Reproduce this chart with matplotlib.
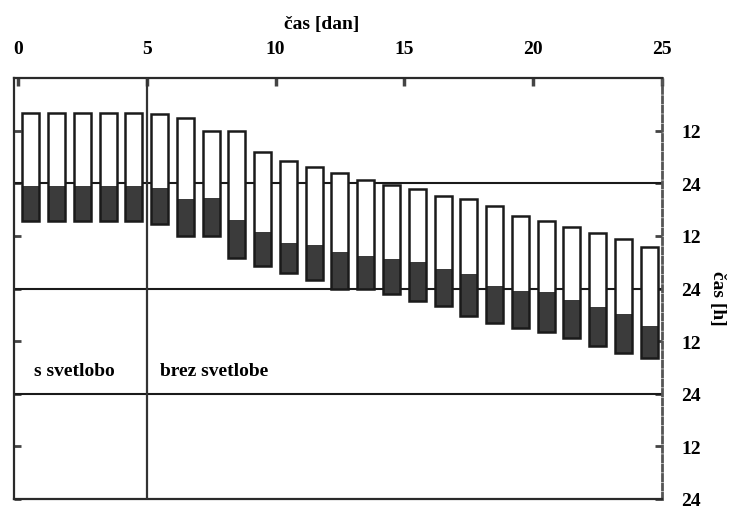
import matplotlib
matplotlib.use("Agg")
import matplotlib.pyplot as plt
import numpy as np

# ---- data ----
days = list(range(25))                       # day index of each bar
onset = [8, 8, 8, 8, 8, 8.2, 9.2, 12, 12, 16.8, 19, 20.4, 21.7, 23.2, 24.4,
         25.3, 26.8, 27.7, 29.1, 31.5, 32.5, 34, 35.3, 36.7, 38.5]
dark_start = [24.6, 24.6, 24.6, 24.6, 24.6, 25, 27.6, 27.4, 32.3, 35.1, 37.6,
              38, 39.6, 40.5, 41.2, 42, 43.6, 44.7, 47.4, 48.5, 48.7, 50.6,
              52.2, 53.8, 56.5]
offset = [32.6, 32.6, 32.6, 32.6, 32.6, 33.3, 36, 36, 41, 42.8, 44.5, 46, 48,
          48, 49.3, 50.8, 52.1, 54.2, 55.9, 56.9, 58, 59.4, 61, 62.6, 63.9]
x_ticks = [0, 5, 10, 15, 20, 25]
y_ticks = [12, 24, 36, 48, 60, 72, 84, 96]
y_tick_labels = ["12", "24", "12", "24", "12", "24", "12", "24"]
day_lines = [24, 48, 72]

FONT = "Liberation Serif"

fig = plt.figure(figsize=(7.29, 5.10), dpi=100)
ax = fig.add_axes([14/729, 1 - 500/510, (662 - 14)/729, (500 - 79)/510])
ax.set_xlim(-0.155, 25)
ax.set_ylim(96, 0)

xpos = np.array(days) + 0.5
on = np.array(onset); ds = np.array(dark_start); off = np.array(offset)
W = 0.66
ax.bar(xpos, ds - on, bottom=on, width=W, color="white", edgecolor="none", zorder=3)
ax.bar(xpos, off - ds, bottom=ds, width=W, color="#3b3b3b", edgecolor="none", zorder=3)
ax.bar(xpos, off - on, bottom=on, width=W, fill=False, edgecolor="#1a1a1a",
       linewidth=1.8, zorder=4)

for h in day_lines:
    ax.axhline(h, color="#1a1a1a", lw=1.5, zorder=2)
ax.axvline(5, color="#333333", lw=1.6, zorder=5)

for s in ["left", "top", "bottom"]:
    ax.spines[s].set_linewidth(1.6)
    ax.spines[s].set_color("#2a2a2a")
ax.spines["right"].set_linestyle((0, (2.2, 1.2)))
ax.spines["right"].set_linewidth(2)
ax.spines["right"].set_color("#555555")

ax.xaxis.set_ticks_position("top")
ax.set_xticks(x_ticks)
ax.set_xticklabels([str(v) for v in x_ticks], fontfamily=FONT, fontweight="bold", fontsize=14)
ax.tick_params(axis="x", direction="in", length=6, width=2.5, pad=15, color="#444444")
fig.text(322/729, 1 - 24/510, "čas [dan]", fontfamily=FONT, fontweight="bold",
         fontsize=14, ha="center", va="center")

ax.yaxis.set_ticks_position("both")
ax.set_yticks(y_ticks)
ax.set_yticklabels(y_tick_labels, fontfamily=FONT, fontweight="bold", fontsize=14)
ax.tick_params(axis="y", which="both", direction="in", length=5, width=2, color="#444444",
               left=True, right=True, labelleft=False, labelright=True, pad=14)
fig.text(717/729, 1 - 298/510, "čas [h]", fontfamily=FONT, fontweight="bold",
         fontsize=14, rotation=-90, ha="center", va="center")

ax.text(2.2, 66.8, "s svetlobo", fontfamily=FONT, fontweight="bold", fontsize=14,
        ha="center", va="center")
ax.text(5.5, 66.8, "brez svetlobe", fontfamily=FONT, fontweight="bold", fontsize=14,
        ha="left", va="center")

fig.savefig("out.png", dpi=100)
